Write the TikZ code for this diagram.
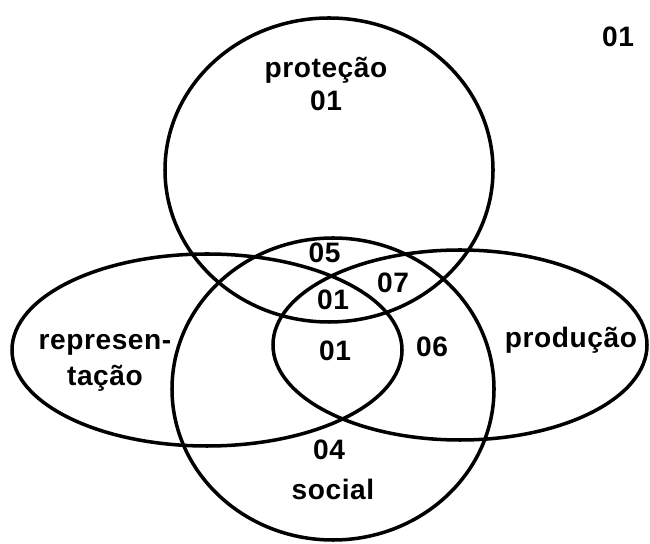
\documentclass[tikz,border=0pt]{standalone}
\usepackage{fontspec}
\newfontfamily\vennfont{Liberation Sans}[LetterSpace=2]
\tikzset{
  set/.style={line width=2pt},
  lbl/.style={font=\vennfont\bfseries\fontsize{16}{20.5}\selectfont, inner sep=0pt, anchor=base},
}
\begin{document}
\begin{tikzpicture}
		\useasboundingbox (0, 0) rectangle (13, 10.86);
		%%%%%%%%%%%%%
		\draw [set] (6.58, 7.46) ellipse [x radius = 3.28, y radius = 3.04];
		\draw [set] (6.66, 3.08) ellipse [x radius = 3.22, y radius = 3.02];
		\draw [set] (4.14, 3.86) ellipse [x radius = 3.90, y radius = 1.92];
		\draw [set] (9.20, 3.96) ellipse [x radius = 3.74, y radius = 1.90];
		%%%%%%%%%%%%%
		\node [lbl] (total) at (12.36, 9.92) {01};
		\node [lbl] (prot) at (6.52, 9.30) {proteção};
		\node [lbl] (prot01) at (6.52, 8.64) {01};
		\node [lbl] (n05) at (6.49, 5.60) {05};
		\node [lbl] (n07) at (7.86, 5.00) {07};
		\node [lbl] (lens01) at (6.66, 4.66) {01};
		\node [lbl] (mid01) at (6.70, 3.64) {01};
		\node [lbl] (n06) at (8.64, 3.72) {06};
		\node [lbl] (n04) at (6.58, 1.66) {04};
		\node [lbl] (soc) at (6.66, 0.88) {social};
		\node [lbl] (prod) at (11.42, 3.90) {produção};
		\node [lbl, align = center] (repr) at (2.10, 3.14) {represen-\\tação};
\end{tikzpicture}
\end{document}
